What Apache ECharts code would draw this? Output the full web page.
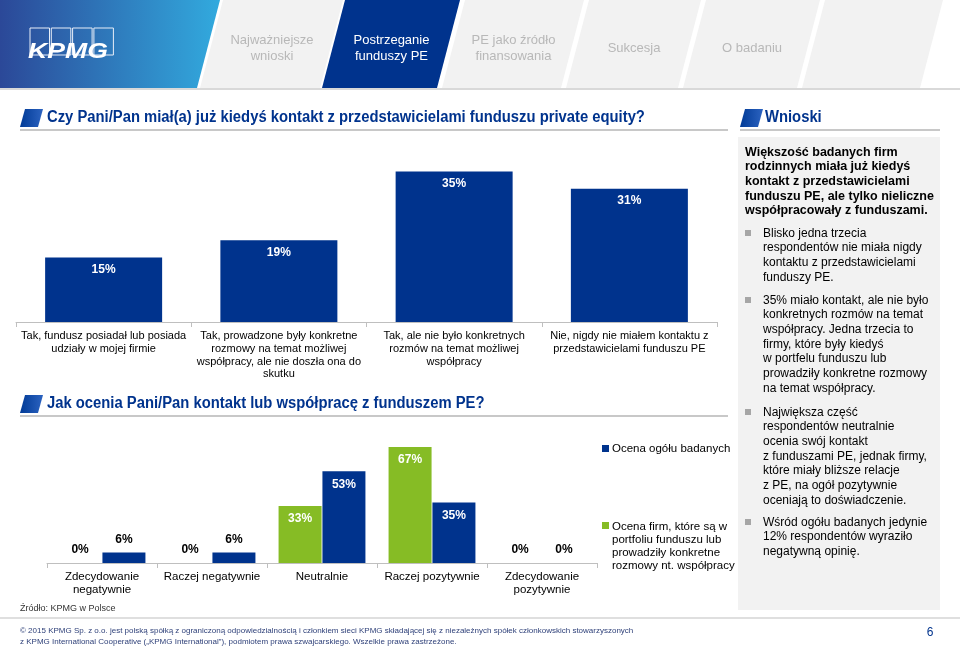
<!DOCTYPE html>
<html>
<head>
<meta charset="utf-8">
<script src="https://cdn.jsdelivr.net/npm/echarts@6/dist/echarts.min.js"></script>
<style>
html,body{margin:0;padding:0;background:#fff;}
#c{width:960px;height:648px;}
</style>
</head>
<body>
<div id="c"></div>
<script>
// ---- data ----
const topCategories = [
  'Tak, fundusz posiadał lub posiada\nudziały w mojej firmie',
  'Tak, prowadzone były konkretne\nrozmowy na temat możliwej\nwspółpracy, ale nie doszła ona do\nskutku',
  'Tak, ale nie było konkretnych\nrozmów na temat możliwej\nwspółpracy',
  'Nie, nigdy nie miałem kontaktu z\nprzedstawicielami funduszu PE'
];
const topValues = [15, 19, 35, 31];

const bottomCategories = ['Zdecydowanie\nnegatywnie', 'Raczej negatywnie', 'Neutralnie', 'Raczej pozytywnie', 'Zdecydowanie\npozytywnie'];
const portfolioValues = [0, 0, 33, 67, 0];
const allValues = [6, 6, 53, 35, 0];
const seriesAll = 'Ocena ogółu badanych';
const seriesPortfolio = 'Ocena firm, które są w portfoliu funduszu lub prowadziły konkretne rozmowy nt. współpracy';
const legendPortfolioLines = ['Ocena firm, które są w', 'portfoliu funduszu lub', 'prowadziły konkretne', 'rozmowy nt. współpracy'];

const tabs = ['Najważniejsze\nwnioski', 'Postrzeganie\nfunduszy PE', 'PE jako źródło\nfinansowania', 'Sukcesja', 'O badaniu'];
const title1 = 'Czy Pani/Pan miał(a) już kiedyś kontakt z przedstawicielami funduszu private equity?';
const title2 = 'Jak ocenia Pani/Pan kontakt lub współpracę z funduszem PE?';
const conclusionsTitle = 'Wnioski';
const conclusionsLead = 'Większość badanych firm\nrodzinnych miała już kiedyś\nkontakt z przedstawicielami\nfunduszu PE, ale tylko nieliczne\nwspółpracowały z funduszami.';
const bullets = [
  'Blisko jedna trzecia\nrespondentów nie miała nigdy\nkontaktu z przedstawicielami\nfunduszy PE.',
  '35% miało kontakt, ale nie było\nkonkretnych rozmów na temat\nwspółpracy. Jedna trzecia to\nfirmy, które były kiedyś\nw portfelu funduszu lub\nprowadziły konkretne rozmowy\nna temat współpracy.',
  'Największa część\nrespondentów neutralnie\nocenia swój kontakt\nz funduszami PE, jednak firmy,\nktóre miały bliższe relacje\nz PE, na ogół pozytywnie\noceniają to doświadczenie.',
  'Wśród ogółu badanych jedynie\n12% respondentów wyraziło\nnegatywną opinię.'
];
const sourceText = 'Źródło: KPMG w Polsce';
const footerText = '© 2015 KPMG Sp. z o.o. jest polską spółką z ograniczoną odpowiedzialnością i członkiem sieci KPMG składającej się z niezależnych spółek członkowskich stowarzyszonych\nz KPMG International Cooperative („KPMG International”), podmiotem prawa szwajcarskiego. Wszelkie prawa zastrzeżone.';
const pageNumber = '6';
const logoText = 'KPMG';

// ---- styles ----
const BLUE = '#00338d';
const GREEN = '#86bc25';
const FONT = '"Liberation Sans", Arial, sans-serif';

function txt(x, y, text, opts) {
  opts = opts || {};
  const st = {
    text: text, x: 0, y: 0,
    font: (opts.weight || 'normal') + ' ' + (opts.size || 12) + 'px ' + FONT,
    fill: opts.color || '#000',
    align: opts.align || 'left', textAlign: opts.align || 'left',
    verticalAlign: opts.va || 'middle', textVerticalAlign: opts.va || 'middle'
  };
  if (opts.lh) st.lineHeight = opts.lh;
  const el = { type: 'text', x: x, y: y, z: 10, style: st, silent: true };
  if (opts.sx) el.scaleX = opts.sx;
  return el;
}
function poly(points, fill, z) {
  return { type: 'polygon', shape: { points: points }, style: { fill: fill }, z: z || 1, silent: true };
}
function rect(x, y, w, h, fill, z) {
  return { type: 'rect', shape: { x: x, y: y, width: w, height: h }, style: { fill: fill }, z: z || 1, silent: true };
}
function line(x1, y1, x2, y2, color, w) {
  return { type: 'line', shape: { x1: x1, y1: y1, x2: x2, y2: y2 }, style: { stroke: color, lineWidth: w || 1 }, z: 2, silent: true };
}
function icon(x, y) {
  return {
    type: 'polygon', z: 3, silent: true,
    shape: { points: [[x + 5, y], [x + 23, y], [x + 18, y + 18], [x, y + 18]] },
    style: { fill: { type: 'linear', x: 0, y: 0, x2: 1, y2: 0, colorStops: [{ offset: 0, color: '#003a96' }, { offset: 1, color: '#2c63c0' }] } }
  };
}

const graphics = [];
// header
graphics.push(rect(0, 0, 960, 88, '#ffffff', 0));
graphics.push(poly([[0, 0], [220, 0], [197, 88], [0, 88]], {
  type: 'linear', x: 0, y: 0, x2: 1, y2: 0,
  colorStops: [{ offset: 0, color: '#2b4898' }, { offset: 1, color: '#32aade' }]
}, 1));
const tabShapes = [[223, 343], [345, 460], [465, 584], [589, 701], [706, 820], [825, 943]];
tabShapes.forEach(function (s, i) {
  const fill = i === 1 ? BLUE : '#f2f2f2';
  graphics.push(poly([[s[0], 0], [s[1], 0], [s[1] - 23, 88], [s[0] - 23, 88]], fill, 1));
});
tabs.forEach(function (t, i) {
  const s = tabShapes[i];
  const cx = (s[0] + s[1]) / 2 - 11;
  graphics.push(txt(cx, 48, t, { size: 13, color: i === 1 ? '#ffffff' : '#b8b8b8', align: 'center', lh: 16 }));
});
graphics.push(line(0, 89, 960, 89, '#d9d9d9', 2));
// KPMG logo
for (let i = 0; i < 4; i++) {
  graphics.push({ type: 'rect', shape: { x: 30 + i * 21.3, y: 28, width: 19.5, height: 27 }, style: { fill: 'none', stroke: '#e8eef8', lineWidth: 1 }, z: 3, silent: true });
}
graphics.push(txt(28, 52, logoText, { size: 22, weight: 'bold italic', color: '#ffffff', sx: 1.21 }));

// section titles
graphics.push(icon(20, 109));
graphics.push(txt(47, 118, title1, { size: 16, weight: 'bold', color: BLUE, sx: 0.925 }));
graphics.push(line(20, 130, 728, 130, '#c8c8c8', 2));
graphics.push(icon(740, 109));
graphics.push(txt(765, 118, conclusionsTitle, { size: 16, weight: 'bold', color: BLUE, sx: 0.925 }));
graphics.push(line(740, 130, 940, 130, '#c8c8c8', 2));

graphics.push(icon(20, 395));
graphics.push(txt(47, 404, title2, { size: 16, weight: 'bold', color: BLUE, sx: 0.925 }));
graphics.push(line(20, 416, 728, 416, '#c8c8c8', 2));

// conclusions box
graphics.push(rect(738, 137, 202, 473, '#f2f2f2', 0));
graphics.push(txt(745, 145, conclusionsLead, { size: 12.5, weight: 'bold', color: '#000', va: 'top', lh: 14.6 }));
const bulletTops = [226, 293, 405, 515];
bullets.forEach(function (b, i) {
  graphics.push(rect(745, bulletTops[i] + 4, 6, 6, '#a6a6a6', 3));
  graphics.push(txt(763, bulletTops[i], b, { size: 12, color: '#000', va: 'top', lh: 14.7 }));
});

// legend of bottom chart
graphics.push(rect(602, 445, 7, 7, BLUE, 3));
graphics.push(txt(612, 449, seriesAll, { size: 11.5, color: '#000' }));
graphics.push(rect(602, 522, 7, 7, GREEN, 3));
graphics.push(txt(612, 520, legendPortfolioLines.join('\n'), { size: 11.5, color: '#000', va: 'top', lh: 13 }));

// footer
graphics.push(txt(20, 609, sourceText, { size: 9, color: '#333' }));
graphics.push(line(0, 618, 960, 618, '#bfbfbf', 1));
graphics.push(txt(20, 625, footerText, { size: 8, color: '#2d3f78', va: 'top', lh: 11 }));
graphics.push(txt(930, 633, pageNumber, { size: 12, color: BLUE, align: 'center' }));

// ---- bottom chart data items ----
function bottomItems(values) {
  return values.map(function (v) {
    const small = v < 10;
    return {
      value: v,
      label: small
        ? { show: true, position: 'top', distance: 7, color: '#000' }
        : { show: true, position: 'insideTop', distance: 7, color: '#fff' }
    };
  });
}

const chart = echarts.init(document.getElementById('c'), null, { renderer: 'canvas' });
chart.setOption({
  animation: false,
  backgroundColor: '#ffffff',
  textStyle: { fontFamily: FONT },
  grid: [
    { left: 16, width: 701, top: 150, height: 172 },
    { left: 47, width: 550, top: 424.6, height: 138.4 }
  ],
  xAxis: [
    {
      type: 'category', gridIndex: 0, data: topCategories,
      axisLine: { lineStyle: { color: '#bfbfbf' } },
      axisTick: { show: true, length: 5, lineStyle: { color: '#bfbfbf' } },
      axisLabel: { interval: 0, margin: 8, fontSize: 11, color: '#000', lineHeight: 12.6, fontFamily: FONT }
    },
    {
      type: 'category', gridIndex: 1, data: bottomCategories,
      axisLine: { lineStyle: { color: '#bfbfbf' } },
      axisTick: { show: true, length: 5, lineStyle: { color: '#bfbfbf' } },
      axisLabel: { interval: 0, margin: 7, fontSize: 11.5, color: '#000', lineHeight: 13, fontFamily: FONT }
    }
  ],
  yAxis: [
    { type: 'value', gridIndex: 0, min: 0, max: 40, show: false, splitLine: { show: false } },
    { type: 'value', gridIndex: 1, min: 0, max: 80, show: false, splitLine: { show: false } }
  ],
  series: [
    {
      name: 'Kontakt z funduszem PE', type: 'bar', xAxisIndex: 0, yAxisIndex: 0,
      data: topValues, barWidth: 117, itemStyle: { color: BLUE },
      label: { show: true, position: 'insideTop', distance: 6, color: '#fff', fontWeight: 'bold', fontSize: 12, formatter: '{c}%' }
    },
    {
      name: seriesPortfolio, type: 'bar', xAxisIndex: 1, yAxisIndex: 1,
      data: bottomItems(portfolioValues), barWidth: 43, barGap: '2%', itemStyle: { color: GREEN },
      label: { show: true, fontWeight: 'bold', fontSize: 12, formatter: '{c}%' }
    },
    {
      name: seriesAll, type: 'bar', xAxisIndex: 1, yAxisIndex: 1,
      data: bottomItems(allValues), barWidth: 43, barGap: '2%', itemStyle: { color: BLUE },
      label: { show: true, fontWeight: 'bold', fontSize: 12, formatter: '{c}%' }
    }
  ],
  graphic: graphics
});
</script>
</body>
</html>
